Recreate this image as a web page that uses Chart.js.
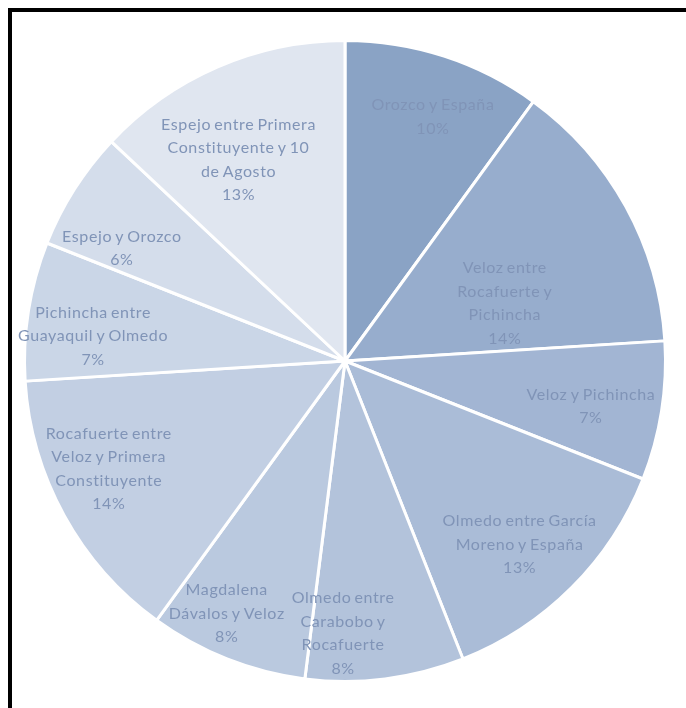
<!DOCTYPE html>
<html lang="es">
<head>
    <meta charset="UTF-8">
    <title>Puntos de conteo</title>
    <style>
        html, body { margin: 0; padding: 0; background: #fff; }
        body { width: 686px; height: 708px; position: relative; overflow: hidden; }
        .frame {
            position: absolute; left: 8px; top: 8px; right: 0; bottom: 0;
            border-top: 4px solid #000; border-left: 4px solid #000;
        }
        .chart-box { position: absolute; left: 0; top: 0; width: 686px; height: 708px; }
    </style>
</head>
<body>
    <div class="frame"></div>
    <div class="chart-box"><canvas id="pieChart"></canvas></div>

    <script src="https://cdn.jsdelivr.net/npm/chart.js"></script>
    <script>
        // intersections, clockwise from 12 o'clock
        const categories = [
            ['Orozco y España'],
            ['Veloz entre', 'Rocafuerte y', 'Pichincha'],
            ['Veloz y Pichincha'],
            ['Olmedo entre García', 'Moreno y España'],
            ['Olmedo entre', 'Carabobo y', 'Rocafuerte'],
            ['Magdalena', 'Dávalos y Veloz'],
            ['Rocafuerte entre', 'Veloz y Primera', 'Constituyente'],
            ['Pichincha entre', 'Guayaquil y Olmedo'],
            ['Espejo y Orozco'],
            ['Espejo entre Primera', 'Constituyente y 10', 'de Agosto']
        ];
        const shares = [10, 14, 7, 13, 8, 8, 14, 7, 6, 13];

        const sliceColors = [
            '#8aa3c5', '#97adcd', '#a2b5d3', '#aabcd7', '#b3c3db',
            '#bac9df', '#c2cfe3', '#cad6e7', '#d4ddeb', '#e0e6f0'
        ];
        // label anchor per slice: fraction of the radius, and a small turn (degrees) off the mid angle
        const labelRadius = [0.81, 0.53, 0.78, 0.79, 0.85, 0.87, 0.81, 0.79, 0.78, 0.71];
        const labelTurn = [1.8, 8.9, 1.4, 1.4, 7.6, 3.5, 4.3, -3.3, -5.6, -4.5];

        // draws the multi-line name + percentage inside each slice
        const sliceLabels = {
            id: 'sliceLabels',
            afterDatasetsDraw(chart) {
                const ctx = chart.ctx;
                const meta = chart.getDatasetMeta(0);
                ctx.save();
                ctx.font = '16px Lato';
                ctx.letterSpacing = '0.6px';
                ctx.wordSpacing = '-1.5px';
                ctx.fillStyle = '#8094b7';
                ctx.textAlign = 'center';
                ctx.textBaseline = 'middle';
                const lineH = 23.5;
                meta.data.forEach((arc, i) => {
                    const p = arc.getProps(['x', 'y', 'startAngle', 'endAngle', 'outerRadius'], true);
                    const mid = (p.startAngle + p.endAngle) / 2 + labelTurn[i] * Math.PI / 180;
                    const r = p.outerRadius * labelRadius[i];
                    const cx = p.x + Math.cos(mid) * r;
                    const cy = p.y + Math.sin(mid) * r;
                    const lines = categories[i].concat([shares[i] + '%']);
                    const top = cy - (lines.length - 1) * lineH / 2;
                    lines.forEach((t, k) => ctx.fillText(t, cx, top + k * lineH));
                });
                ctx.restore();
            }
        };

        new Chart(document.getElementById('pieChart'), {
            type: 'pie',
            data: {
                labels: categories,
                datasets: [{
                    data: shares,
                    backgroundColor: sliceColors,
                    borderColor: '#ffffff',
                    borderWidth: 3
                }]
            },
            options: {
                responsive: true,
                maintainAspectRatio: false,
                animation: false,
                layout: { padding: { left: 23, top: 39, right: 19, bottom: 25 } },
                plugins: {
                    legend: { display: false },
                    tooltip: { enabled: false }
                }
            },
            plugins: [sliceLabels]
        });
    </script>
</body>
</html>
